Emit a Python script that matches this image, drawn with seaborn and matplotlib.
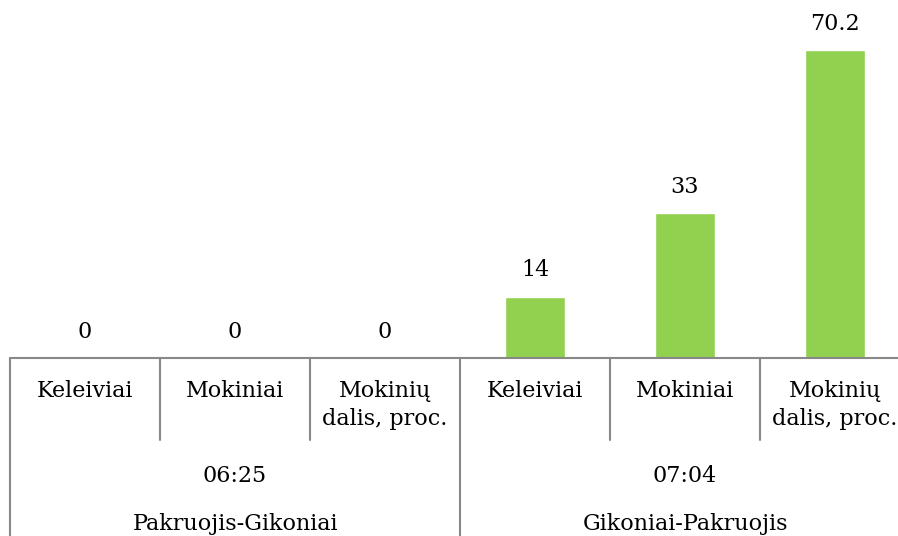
import matplotlib
matplotlib.use("Agg")
import matplotlib.pyplot as plt
import matplotlib.transforms as mtransforms
import pandas as pd
import seaborn as sns

# ---------------------- Data ---------------------- #

routes = ["Pakruojis-Gikoniai", "Gikoniai-Pakruojis"]
times = ["06:25", "07:04"]
measures = ["Keleiviai", "Mokiniai", "Mokinių\ndalis, proc."]
values = [0, 0, 0, 14, 33, 70.2]
value_labels = ["0", "0", "0", "14", "33", "70.2"]

BAR_COLOR = "#92D050"
LINE_COLOR = "#888888"
FONT = "DejaVu Serif"
FS = 16

# ---------------------- Figure ---------------------- #

sns.set_style("white")
plt.rcParams["font.family"] = [FONT]

W, H = 898, 536
fig = plt.figure(figsize=(W / 100, H / 100), dpi=100)

def fy(px):
    """pixel row from top -> figure fraction"""
    return (H - px) / H

base_px = 358
top_px = 7
ax = fig.add_axes([10 / W, fy(base_px), 900 / W, (base_px - top_px) / H])

df = pd.DataFrame({
    "pos": list(range(len(values))),
    "value": values,
})
sns.barplot(data=df, x="pos", y="value", color=BAR_COLOR, width=0.4,
            saturation=1, ax=ax, native_scale=True)

ax.set_xlim(-0.5, len(values) - 0.5)
ax.set_ylim(0, 80)
ax.set_xticks([])
ax.set_yticks([])
ax.set_xlabel("")
ax.set_ylabel("")
for s in ax.spines.values():
    s.set_visible(False)

# value labels above bars
for i, (v, lab) in enumerate(zip(values, value_labels)):
    ax.annotate(lab, (i, v), xytext=(0, 19), textcoords="offset points",
                ha="center", va="center", fontsize=FS, color="black")

# ---------------------- Category axis ---------------------- #

tr = mtransforms.blended_transform_factory(ax.transData, fig.transFigure)
lw = 1.5

# baseline
ax.plot([-0.5, 5.5], [fy(base_px), fy(base_px)], color=LINE_COLOR, lw=lw,
        transform=tr, clip_on=False)

# separators
for k in range(len(values) + 1):
    x = k - 0.5
    full = (k % 3 == 0)
    y_end = fy(H) if full else fy(440)
    ax.plot([x, x], [fy(base_px), y_end], color=LINE_COLOR, lw=lw,
            transform=tr, clip_on=False)

# measure labels
for g in range(len(routes)):
    for j, m in enumerate(measures):
        i = g * 3 + j
        ax.text(i, fy(380), m, transform=tr, ha="center", va="top",
                fontsize=FS, linespacing=1.35, color="black")

# time and route labels
for g, (t, r) in enumerate(zip(times, routes)):
    cx = g * 3 + 1
    ax.text(cx, fy(476), t, transform=tr, ha="center", va="center",
            fontsize=FS, color="black")
    ax.text(cx, fy(524), r, transform=tr, ha="center", va="center",
            fontsize=FS, color="black")

fig.savefig("out.png", dpi=100)
